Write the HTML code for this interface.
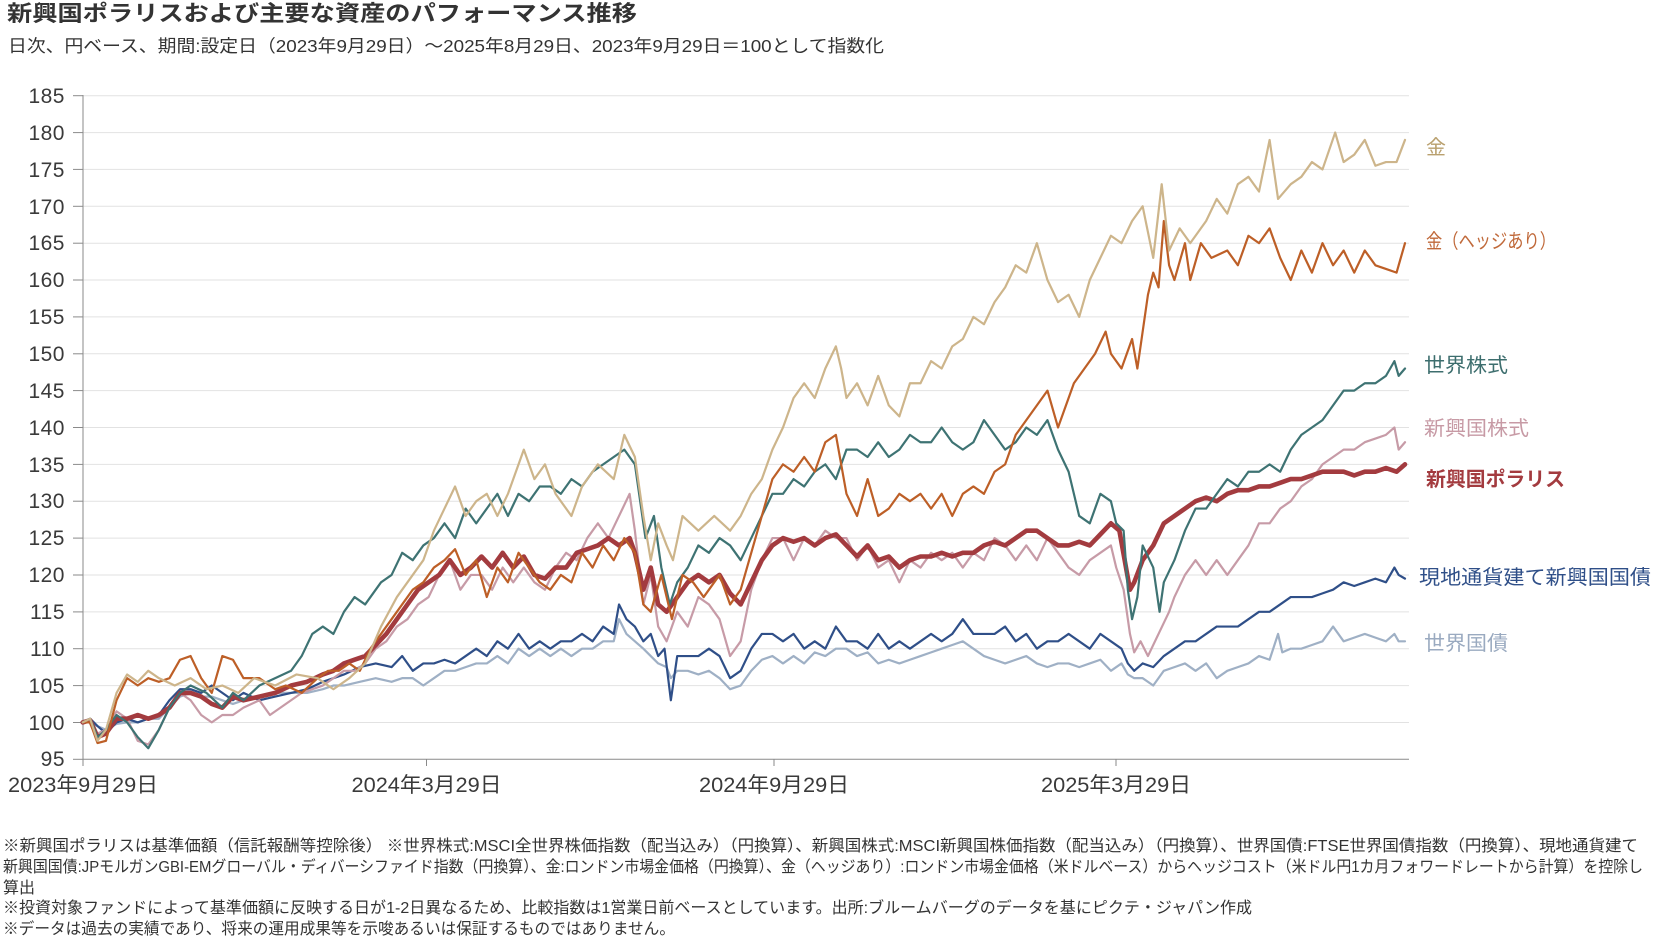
<!DOCTYPE html>
<html lang="ja">
<head>
<meta charset="utf-8">
<style>
  html,body{margin:0;padding:0;background:#fff;}
  svg{display:block;}
  text{font-family:"Liberation Sans","Noto Sans CJK JP",sans-serif;}
</style>
</head>
<body>
<svg width="1662" height="938" viewBox="0 0 1662 938" xmlns="http://www.w3.org/2000/svg">
  <rect x="0" y="0" width="1662" height="938" fill="#fff"/>

  <!-- Title -->
  <text x="7" y="21" font-size="22" font-weight="bold" fill="#333" textLength="630" lengthAdjust="spacingAndGlyphs">新興国ポラリスおよび主要な資産のパフォーマンス推移</text>
  <text x="8" y="52" font-size="17.5" fill="#333" textLength="876" lengthAdjust="spacingAndGlyphs">日次、円ベース、期間:設定日（2023年9月29日）～2025年8月29日、2023年9月29日＝100として指数化</text>

  <!-- Gridlines -->
  <g stroke="#e2e2e2" stroke-width="1">
    <line x1="83" y1="95.7" x2="1409" y2="95.7"/>
    <line x1="83" y1="132.6" x2="1409" y2="132.6"/>
    <line x1="83" y1="169.4" x2="1409" y2="169.4"/>
    <line x1="83" y1="206.3" x2="1409" y2="206.3"/>
    <line x1="83" y1="243.2" x2="1409" y2="243.2"/>
    <line x1="83" y1="280.0" x2="1409" y2="280.0"/>
    <line x1="83" y1="316.9" x2="1409" y2="316.9"/>
    <line x1="83" y1="353.8" x2="1409" y2="353.8"/>
    <line x1="83" y1="390.6" x2="1409" y2="390.6"/>
    <line x1="83" y1="427.5" x2="1409" y2="427.5"/>
    <line x1="83" y1="464.4" x2="1409" y2="464.4"/>
    <line x1="83" y1="501.2" x2="1409" y2="501.2"/>
    <line x1="83" y1="538.1" x2="1409" y2="538.1"/>
    <line x1="83" y1="575.0" x2="1409" y2="575.0"/>
    <line x1="83" y1="611.9" x2="1409" y2="611.9"/>
    <line x1="83" y1="648.7" x2="1409" y2="648.7"/>
    <line x1="83" y1="685.6" x2="1409" y2="685.6"/>
    <line x1="83" y1="722.5" x2="1409" y2="722.5"/>
  </g>

  <!-- Y tick marks -->
  <g stroke="#8a8a8a" stroke-width="1">
    <line x1="73" y1="95.7" x2="83" y2="95.7"/>
    <line x1="73" y1="132.6" x2="83" y2="132.6"/>
    <line x1="73" y1="169.4" x2="83" y2="169.4"/>
    <line x1="73" y1="206.3" x2="83" y2="206.3"/>
    <line x1="73" y1="243.2" x2="83" y2="243.2"/>
    <line x1="73" y1="280.0" x2="83" y2="280.0"/>
    <line x1="73" y1="316.9" x2="83" y2="316.9"/>
    <line x1="73" y1="353.8" x2="83" y2="353.8"/>
    <line x1="73" y1="390.6" x2="83" y2="390.6"/>
    <line x1="73" y1="427.5" x2="83" y2="427.5"/>
    <line x1="73" y1="464.4" x2="83" y2="464.4"/>
    <line x1="73" y1="501.2" x2="83" y2="501.2"/>
    <line x1="73" y1="538.1" x2="83" y2="538.1"/>
    <line x1="73" y1="575.0" x2="83" y2="575.0"/>
    <line x1="73" y1="611.9" x2="83" y2="611.9"/>
    <line x1="73" y1="648.7" x2="83" y2="648.7"/>
    <line x1="73" y1="685.6" x2="83" y2="685.6"/>
    <line x1="73" y1="722.5" x2="83" y2="722.5"/>
    <line x1="73" y1="759.3" x2="83" y2="759.3"/>
    <!-- axes -->
    <line x1="83" y1="95" x2="83" y2="760"/>
    <line x1="83" y1="759.3" x2="1409" y2="759.3"/>
    <!-- x ticks -->
    <line x1="83" y1="759" x2="83" y2="766"/>
    <line x1="426.5" y1="759" x2="426.5" y2="766"/>
    <line x1="774" y1="759" x2="774" y2="766"/>
    <line x1="1116" y1="759" x2="1116" y2="766"/>
  </g>

  <!-- Y labels -->
  <g font-size="21" fill="#3a3a3a" text-anchor="end" letter-spacing="0.5">
    <text x="65" y="103">185</text>
    <text x="65" y="140">180</text>
    <text x="65" y="177">175</text>
    <text x="65" y="214">170</text>
    <text x="65" y="250">165</text>
    <text x="65" y="287">160</text>
    <text x="65" y="324">155</text>
    <text x="65" y="361">150</text>
    <text x="65" y="398">145</text>
    <text x="65" y="435">140</text>
    <text x="65" y="472">135</text>
    <text x="65" y="508">130</text>
    <text x="65" y="545">125</text>
    <text x="65" y="582">120</text>
    <text x="65" y="619">115</text>
    <text x="65" y="656">110</text>
    <text x="65" y="693">105</text>
    <text x="65" y="730">100</text>
    <text x="65" y="766">95</text>
  </g>

  <!-- X labels -->
  <g font-size="21" fill="#3a3a3a" text-anchor="middle">
    <text x="83" y="792" textLength="150" lengthAdjust="spacingAndGlyphs">2023年9月29日</text>
    <text x="426.5" y="792" textLength="150" lengthAdjust="spacingAndGlyphs">2024年3月29日</text>
    <text x="774" y="792" textLength="150" lengthAdjust="spacingAndGlyphs">2024年9月29日</text>
    <text x="1116" y="792" textLength="150" lengthAdjust="spacingAndGlyphs">2025年3月29日</text>
  </g>

  <!-- Series (display-x, value) mapped through transform -->
  <g transform="matrix(1.05784 0 0 -7.373 0.189 1459.7)" fill="none" stroke-linejoin="round" stroke-linecap="round">
    <!-- World bonds -->
    <polyline vector-effect="non-scaling-stroke" stroke="#9fb0c5" stroke-width="2.2" points="78,100 85,100 92,99.5 100,99 110,99.8 120,100 130,100 140,100.5 150,100.5 160,102 170,103.5 180,104 190,103.5 200,103.5 210,103 220,102.5 230,103 245,103.5 260,104 275,104 290,104 305,104.5 315,105 325,105 340,105.5 355,106 370,105.5 380,106 390,106 400,105 410,106 420,107 430,107 440,107.5 450,108 460,108 470,109 480,108 490,110 500,109 510,110 520,109 530,110 540,109 550,110 560,110 570,111 580,111 585,114 592,112 600,111 608,110 615,109 622,108 630,107.5 634,106 640,107 650,107 660,106.5 670,107 680,106 690,104.5 700,105 710,107 720,108.5 730,109 740,108 750,109 760,108 770,109.5 780,109 790,110 800,110 810,109 820,109.5 830,108 840,108.5 850,108 860,108.5 870,109 880,109.5 890,110 900,110.5 910,111 920,110 930,109 940,108.5 950,108 960,108.5 970,109 980,108 990,107.5 1000,108 1010,108 1020,107.5 1030,108 1040,108.5 1050,107 1060,108 1066,106.5 1072,106 1080,106 1090,105 1100,107 1110,107.5 1120,108 1130,107 1140,108 1150,106 1160,107 1170,107.5 1180,108 1190,109 1200,108.5 1208,112 1212,109.5 1220,110 1230,110 1240,110.5 1250,111 1260,113 1270,111 1280,111.5 1290,112 1300,111.5 1310,111 1318,112 1322,111 1328,111"/>
    <!-- Local currency EM bonds -->
    <polyline vector-effect="non-scaling-stroke" stroke="#2f4f88" stroke-width="2.2" points="78,100 85,100.5 92,99.5 100,98.5 110,100 120,100.5 130,100 140,100.5 150,101 160,103 170,104.5 180,104.5 190,104 200,105 210,104 220,103 230,104 245,103 260,103.5 275,104 290,104.5 305,105.5 315,106 325,106.5 340,107.5 355,108 370,107.5 380,109 390,107 400,108 410,108 420,108.5 430,108 440,109 450,110 460,109 470,111 480,110 490,112 500,110 510,111 520,110 530,111 540,111 550,112 560,111 570,113 580,112 585,116 592,114 600,113 608,111 615,112 622,109 628,110 634,103 640,109 650,109 660,109 670,110 680,109 690,106 700,107 710,110 720,112 730,112 740,111 750,112 760,110 770,111 780,110 790,113 800,111 810,111 820,110 830,112 840,110 850,111 860,110 870,111 880,112 890,111 900,112 910,114 920,112 930,112 940,112 950,113 960,111 970,112 980,110 990,111 1000,111 1010,112 1020,111 1030,110 1040,112 1050,111 1060,110 1066,108 1072,107 1080,108 1090,107.5 1100,109 1110,110 1120,111 1130,111 1140,112 1150,113 1160,113 1170,113 1180,114 1190,115 1200,115 1210,116 1220,117 1230,117 1240,117 1250,117.5 1260,118 1270,119 1280,118.5 1290,119 1300,119.5 1310,119 1318,121 1322,120 1328,119.5"/>
    <!-- EM equity -->
    <polyline vector-effect="non-scaling-stroke" stroke="#c79ba7" stroke-width="2.2" points="78,100 85,100.5 92,98.5 100,99 110,101.5 120,100.5 130,97.5 140,97 150,99 160,102 170,104 180,103 190,101 200,100 210,101 220,101 230,102 245,103 255,101 265,102 275,103 285,104 295,104.5 305,105 315,106 325,107 335,107 345,108 355,110 365,111 375,113 385,114 395,116 405,117 415,120 425,122 435,118 445,120 455,120 465,118 475,121 485,119 495,121 505,119 515,118 525,121 535,123 545,122 555,125 565,127 575,125 585,128 595,131 600,126 608,116 615,120 622,113 630,111 640,115 650,113 660,117 670,116 680,114 690,109 700,111 710,118 720,122 730,125 740,125 750,122 760,125 770,124 780,126 790,125 800,125 810,122 820,124 830,121 840,122 850,119 860,122 870,121 880,123 890,122 900,123 910,121 920,123 930,122 940,125 950,124 960,122 970,124 980,122 990,125 1000,123 1010,121 1020,120 1030,122 1040,123 1050,124 1055,121 1062,118 1068,112 1072,109.5 1078,111 1085,109 1095,112 1105,115 1110,117 1120,120 1130,122 1140,120 1150,122 1160,120 1170,122 1180,124 1190,127 1200,127 1210,129 1220,130 1230,132 1240,133 1250,135 1260,136 1270,137 1280,137 1290,138 1300,138.5 1310,139 1318,140 1322,137 1328,138"/>
    <!-- Polaris (thick) -->
    <polyline vector-effect="non-scaling-stroke" stroke="#a33b3f" stroke-width="4.6" points="78,100 85,100.3 92,98 100,98.5 110,100.5 120,100.5 130,101 140,100.5 150,101 160,102 170,104 180,104 190,103.5 200,102.5 210,102 220,103.5 230,103 245,103.5 260,104 275,105 290,105.5 305,106.5 315,107 325,108 335,108.5 345,109 355,110.5 365,112 375,114 385,116 395,118 405,119 415,120 425,122 435,120 445,121 455,122.5 465,121 475,123 485,121 495,122.5 505,120 515,119.5 525,121 535,121 545,123 555,123.5 565,124 575,125 585,124 595,125 600,123 608,118 615,121 622,116 630,115 640,117 650,119 660,120 670,119 680,120 690,117.5 700,116 710,119 720,122 730,124 740,125 750,124.5 760,125 770,124 780,125 790,125.5 800,124 810,122.5 820,124 830,122 840,122.5 850,121 860,122 870,122.5 880,122.5 890,123 900,122.5 910,123 920,123 930,124 940,124.5 950,124 960,125 970,126 980,126 990,125 1000,124 1010,124 1020,124.5 1030,124 1040,125.5 1050,127 1058,126 1063,122 1068,118 1072,119 1080,122 1090,124 1100,127 1110,128 1120,129 1130,130 1140,130.5 1150,130 1160,131 1170,131.5 1180,131.5 1190,132 1200,132 1210,132.5 1220,133 1230,133 1240,133.5 1250,134 1260,134 1270,134 1280,133.5 1290,134 1300,134 1310,134.5 1320,134 1328,135"/>
    <!-- World equity -->
    <polyline vector-effect="non-scaling-stroke" stroke="#3e7373" stroke-width="2.2" points="78,100 85,100.5 92,98 100,99 110,101 120,100 130,98 140,96.5 150,99 160,102 170,104 180,105 195,104 210,102 220,104 230,103 245,105 260,106 275,107 285,109 295,112 305,113 315,112 325,115 335,117 345,116 360,119 370,120 380,123 390,122 400,124 410,125 420,127 430,125 440,129 450,127 460,129 470,131 480,128 490,131 500,130 510,132 520,132 530,131 540,133 550,132 560,134 570,135 580,136 590,137 600,135 610,125 618,128 625,121 633,116 640,119 650,121 660,124 670,123 680,125 690,124 700,122 710,125 720,128 730,131 740,131 750,133 760,132 770,134 780,135 790,133 800,137 810,137 820,136 830,138 840,136 850,137 860,139 870,138 880,138 890,140 900,138 910,137 920,138 930,141 940,139 950,137 960,138 970,140 980,139 990,141 1000,137 1010,134 1020,128 1030,127 1040,131 1050,130 1055,127 1062,126 1066,118 1070,114 1075,117 1080,124 1090,121 1096,115 1100,119 1110,122 1120,126 1130,129 1140,129 1150,131 1160,133 1170,132 1180,134 1190,134 1200,135 1210,134 1220,137 1230,139 1240,140 1250,141 1260,143 1270,145 1280,145 1290,146 1300,146 1310,147 1318,149 1322,147 1328,148"/>
    <!-- Gold hedged -->
    <polyline vector-effect="non-scaling-stroke" stroke="#bd5f27" stroke-width="2.2" points="78,100 85,100 92,97.2 100,97.5 110,103 120,106 130,105 140,106 150,105.5 160,106 170,108.5 180,109 190,106 200,104 210,109 220,108.5 230,106 245,106 260,104.5 270,105 285,104 300,106 310,107 320,107 330,108 340,107 350,110 360,112 370,114 380,116 390,118 400,119 410,121 420,122 430,123.5 440,120 450,122 460,117 470,121 480,119 490,123 500,121 510,119 520,118 530,120 540,119 550,123 560,121 570,124 580,122 590,125 600,123 608,116 615,115 625,120 635,114 645,120 655,119 665,117 680,120 690,116 700,118 710,123 720,128 730,133 740,135 750,134 760,136 770,134 780,138 790,139 800,131 810,128 820,133 830,128 840,129 850,131 860,130 870,131 880,129 890,131 900,128 910,131 920,132 930,131 940,134 950,135 960,139 970,141 980,143 990,145 1000,140 1005,142 1015,146 1025,148 1035,150 1045,153 1050,150 1060,148 1070,152 1075,148 1085,158 1090,161 1095,159 1100,168 1105,162 1110,160 1120,165 1125,160 1135,165 1145,163 1160,164 1170,162 1180,166 1190,165 1200,167 1210,163 1220,160 1230,164 1240,161 1250,165 1260,162 1270,164 1280,161 1290,164 1300,162 1310,161.5 1320,161 1328,165"/>
    <!-- Gold -->
    <polyline vector-effect="non-scaling-stroke" stroke="#cdb58b" stroke-width="2.2" points="78,100 85,100.5 92,97.5 100,99 110,104 120,106.5 130,105.5 140,107 150,106 165,105 180,106 195,104.5 210,105 225,104 240,106 260,105 280,106.5 300,106 315,104.5 330,106 345,108 360,113 375,117 390,120 400,122 410,126 420,129 430,132 440,128 450,130 460,131 470,128 480,131 495,137 505,133 515,135 525,131 540,128 550,132 565,135 580,133 590,139 600,136 608,128 615,122 622,127 630,124 636,122 645,128 660,126 675,128 690,126 700,128 710,131 720,133 730,137 740,140 750,144 760,146 770,144 780,148 790,151 795,148 800,144 810,146 820,143 830,147 840,143 850,141.5 860,146 870,146 880,149 890,148 900,151 910,152 920,155 930,154 940,157 950,159 960,162 970,161 980,165 990,160 1000,157 1010,158 1020,155 1030,160 1040,163 1050,166 1060,165 1070,168 1080,170 1090,163 1098,173 1105,164 1115,167 1125,165 1140,168 1150,171 1160,169 1170,173 1180,174 1190,172 1200,179 1208,171 1220,173 1230,174 1240,176 1250,175 1262,180 1270,176 1280,177 1290,179 1300,175.5 1310,176 1320,176 1328,179"/>
  </g>

  <!-- Series labels -->
  <text x="1426" y="154" font-size="20" fill="#b9a06e">金</text>
  <text x="1426" y="248" font-size="20" fill="#c0693a" textLength="130" lengthAdjust="spacingAndGlyphs">金（ヘッジあり）</text>
  <text x="1424" y="372" font-size="20" fill="#3d6e6e" textLength="84" lengthAdjust="spacingAndGlyphs">世界株式</text>
  <text x="1424" y="435" font-size="20" fill="#c79aa5" textLength="105" lengthAdjust="spacingAndGlyphs">新興国株式</text>
  <text x="1426" y="486" font-size="20" font-weight="bold" fill="#a33b3f" textLength="139" lengthAdjust="spacingAndGlyphs">新興国ポラリス</text>
  <text x="1419" y="584" font-size="20" fill="#2f4f88" textLength="232" lengthAdjust="spacingAndGlyphs">現地通貨建て新興国国債</text>
  <text x="1424" y="650" font-size="20" fill="#9aaac0" textLength="84" lengthAdjust="spacingAndGlyphs">世界国債</text>

  <!-- Footnotes -->
  <g font-size="16" fill="#333">
    <text x="3" y="851" textLength="1635" lengthAdjust="spacingAndGlyphs">※新興国ポラリスは基準価額（信託報酬等控除後） ※世界株式:MSCI全世界株価指数（配当込み）（円換算）、新興国株式:MSCI新興国株価指数（配当込み）（円換算）、世界国債:FTSE世界国債指数（円換算）、現地通貨建て</text>
    <text x="3" y="872" textLength="1640" lengthAdjust="spacingAndGlyphs">新興国国債:JPモルガンGBI-EMグローバル・ディバーシファイド指数（円換算）、金:ロンドン市場金価格（円換算）、金（ヘッジあり）:ロンドン市場金価格（米ドルベース）からヘッジコスト（米ドル円1カ月フォワードレートから計算）を控除し</text>
    <text x="3" y="893">算出</text>
    <text x="3" y="913" textLength="1249" lengthAdjust="spacingAndGlyphs">※投資対象ファンドによって基準価額に反映する日が1-2日異なるため、比較指数は1営業日前ベースとしています。出所:ブルームバーグのデータを基にピクテ・ジャパン作成</text>
    <text x="3" y="934" textLength="672" lengthAdjust="spacingAndGlyphs">※データは過去の実績であり、将来の運用成果等を示唆あるいは保証するものではありません。</text>
  </g>
</svg>
</body>
</html>
